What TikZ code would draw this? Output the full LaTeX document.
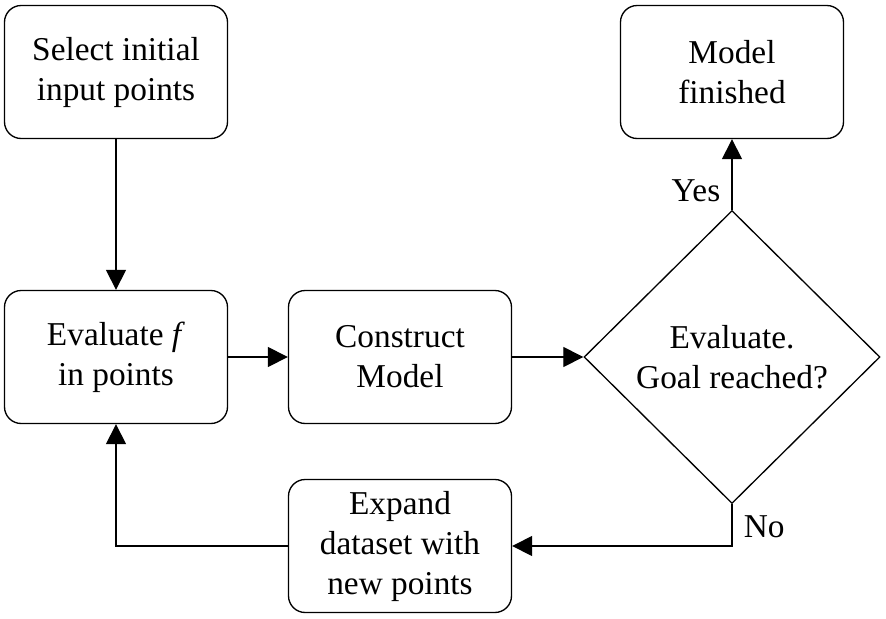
\documentclass[tikz,border=0pt]{standalone}
\usepackage{fontspec}
\setmainfont{Liberation Serif}
\usepackage{tikz}
\usetikzlibrary{shapes.geometric,arrows.meta}
\tikzstyle{flowbox} = [draw=black, fill=white, rectangle, rounded corners=5pt, minimum width=66.9pt, minimum height=39.9pt, align=center, inner sep=0pt]
\tikzstyle{decision} = [draw=black, fill=white, diamond, aspect=1, minimum width=88.8pt, minimum height=87.9pt, align=center, inner sep=0pt]
\tikzstyle{flowline} = [draw=black, -{Triangle[length=6pt,width=6pt]}]

\begin{document}
\begin{tikzpicture}[x=0.3pt, y=-0.3pt]
\useasboundingbox (0,0) rectangle (886,618);
\node [flowbox] (select) at (116,72) {Select initial\\input points};
\node [flowbox] (evaluate) at (116,357) {Evaluate \textit{f}\\in points};
\node [flowbox] (construct) at (400,357) {Construct\\Model};
\node [decision] (goal) at (732,357) {Evaluate.\\Goal reached?};
\node [flowbox] (finished) at (732,72) {Model\\finished};
\node [flowbox] (expand) at (400,546) {Expand\\dataset with\\new points};
\coordinate (corner) at (goal.south |- expand.east);
\draw [flowline] (select) -- (evaluate);
\draw [flowline] (evaluate) -- (construct);
\draw [flowline] (construct) -- (goal);
\draw [flowline] (goal.north) -- node[left, pos=0.27] {Yes} (finished.south);
\draw [flowline] (goal.south) -- node[right, pos=0.55] {No} (corner) -- (expand.east);
\draw [flowline] (expand.west) -| (evaluate.south);
\end{tikzpicture}
\end{document}
